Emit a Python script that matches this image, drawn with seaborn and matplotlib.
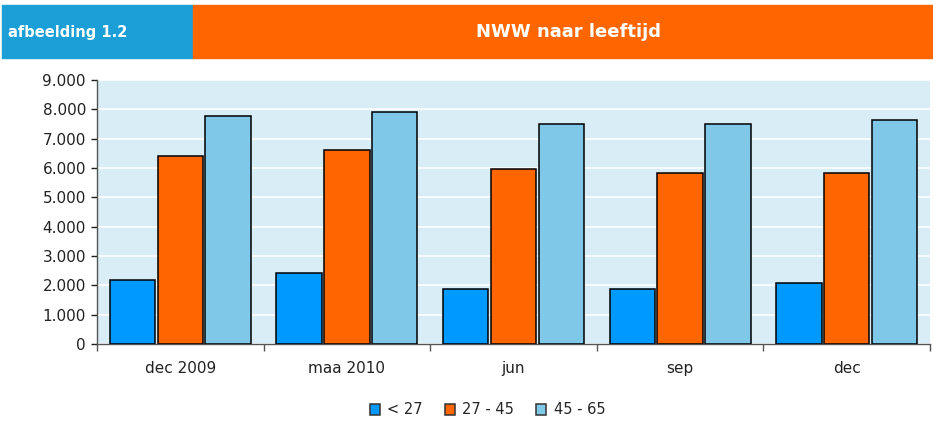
import numpy as np
import pandas as pd
import seaborn as sns
import matplotlib.pyplot as plt
from matplotlib.patches import Rectangle
from matplotlib.ticker import FuncFormatter, FixedLocator

periods = ['dec 2009', 'maa 2010', 'jun', 'sep', 'dec']
age_groups = ['< 27', '27 - 45', '45 - 65']
under_27 = [2180, 2420, 1870, 1870, 2080]
age_27_45 = [6400, 6620, 5970, 5830, 5830]
age_45_65 = [7770, 7910, 7500, 7500, 7640]

colors = ['#0099FF', '#FF6600', '#7FC8E8']

df = pd.DataFrame({
    'periode': periods * 3,
    'leeftijd': [g for g in age_groups for _ in periods],
    'aantal': under_27 + age_27_45 + age_45_65,
})

sns.set_style('white')
plt.rcParams['font.family'] = ['DejaVu Sans']

fig = plt.figure(figsize=(9.33, 4.21), dpi=100)

# header strips
fig.patches.append(Rectangle((2 / 933, 1 - 58 / 421), 191 / 933, 53 / 421,
                             transform=fig.transFigure, color='#1B9FD6', zorder=0))
fig.patches.append(Rectangle((193 / 933, 1 - 58 / 421), 740 / 933, 53 / 421,
                             transform=fig.transFigure, color='#FF6600', zorder=0))
fig.text(8 / 933, 1 - 32 / 421, 'afbeelding 1.2', color='white', fontsize=10.5,
         fontweight='bold', va='center', ha='left')
fig.text(568 / 933, 1 - 32 / 421, 'NWW naar leeftijd', color='white', fontsize=13,
         fontweight='bold', va='center', ha='center')

ax = fig.add_axes([97 / 933, 1 - 344 / 421, 833 / 933, 264 / 421])
ax.set_facecolor('#D9EDF7')

sns.barplot(data=df, x='periode', y='aantal', hue='leeftijd', palette=colors,
            width=0.86, gap=0.05, edgecolor='black', linewidth=1.1,
            saturation=1, ax=ax, zorder=3)

ax.set_ylim(0, 9000)
ax.set_xlim(-0.5, len(periods) - 0.5)
ax.set_yticks(np.arange(0, 9001, 1000))
ax.yaxis.set_major_formatter(FuncFormatter(lambda v, p: f'{int(v):,}'.replace(',', '.')))
ax.grid(axis='y', color='white', linewidth=1.2, zorder=0)
ax.set_axisbelow(True)
ax.set_xlabel('')
ax.set_ylabel('')

for s in ['top', 'right']:
    ax.spines[s].set_visible(False)
for s in ['left', 'bottom']:
    ax.spines[s].set_color('#555555')
    ax.spines[s].set_linewidth(1.0)

ax.tick_params(axis='y', labelsize=11, colors='#222222', length=4, width=1, direction='out', left=True, pad=4)
ax.tick_params(axis='x', labelsize=11, colors='#222222', length=0, pad=12)
ax.xaxis.set_minor_locator(FixedLocator(np.arange(-0.5, len(periods), 1.0)))
ax.tick_params(axis='x', which='minor', length=5, width=1, color='#555555', bottom=True)

handles, labels = ax.get_legend_handles_labels()
ax.legend(handles, labels, loc='center', bbox_to_anchor=(0.469, -0.25),
          ncol=3, frameon=False, fontsize=10.5, handlelength=0.7, handleheight=0.7,
          handletextpad=0.5, columnspacing=1.5)
for h in ax.get_legend().legend_handles:
    h.set_edgecolor('#333333')

fig.savefig('out.png', dpi=100)
